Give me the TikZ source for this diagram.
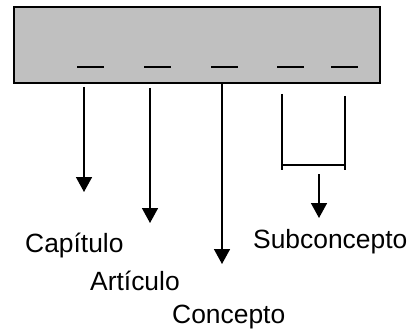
\documentclass[tikz,border=0pt]{standalone}
\usepackage{fontspec}
\setmainfont{Liberation Sans}
\usetikzlibrary{arrows.meta}

\tikzset{
    line/.style={line width=1.6pt},
    arrowline/.style={line width=1.6pt, -{Triangle[length=15pt,width=16pt]}},
    label/.style={anchor=base west, inner sep=0pt, font=\fontsize{26.4}{30}\selectfont}
}

\begin{document}
\begin{tikzpicture}[x=1pt,y=-1pt]
                \useasboundingbox (0,0) rectangle (414,331);
                \filldraw[fill={rgb,255:red,192;green,192;blue,192}, draw=black, line width=2.2pt] (14,7) rectangle (380,83);
                
                % dashes in the box
                \foreach \x in {77,144,211,277,331}
                    \draw[line width=2pt] (\x,67) -- ++(27,0);
                
                \coordinate (capTop) at (84,87);
                \coordinate (capEnd) at (84,192);
                \coordinate (artTop) at (150,88);
                \coordinate (artEnd) at (150,223);
                \coordinate (conTop) at (222,83);
                \coordinate (conEnd) at (222,264);
                \coordinate (subA) at (282,94);
                \coordinate (subB) at (345,96);
                \coordinate (subAl) at (282,170);
                \coordinate (subBl) at (345,170);
                \coordinate (subL) at (282,165);
                \coordinate (subR) at (345,165);
                \coordinate (subTop) at (319,174);
                \coordinate (subEnd) at (319,218);
                
                \draw[arrowline] (capTop) -- (capEnd);
                \draw[arrowline] (artTop) -- (artEnd);
                \draw[arrowline] (conTop) -- (conEnd);
                \draw[line] (subA) -- (subAl);
                \draw[line] (subB) -- (subBl);
                \draw[line] (subL) -- (subR);
                \draw[arrowline] (subTop) -- (subEnd);
                
                \node[label] (capitulo) at (25,252) {Capítulo};
                \node[label] (articulo) at (90,290) {Artículo};
                \node[label] (concepto) at (172,323) {Concepto};
                \node[label] (subconcepto) at (253,248) {Subconcepto};
            \end{tikzpicture}
\end{document}
